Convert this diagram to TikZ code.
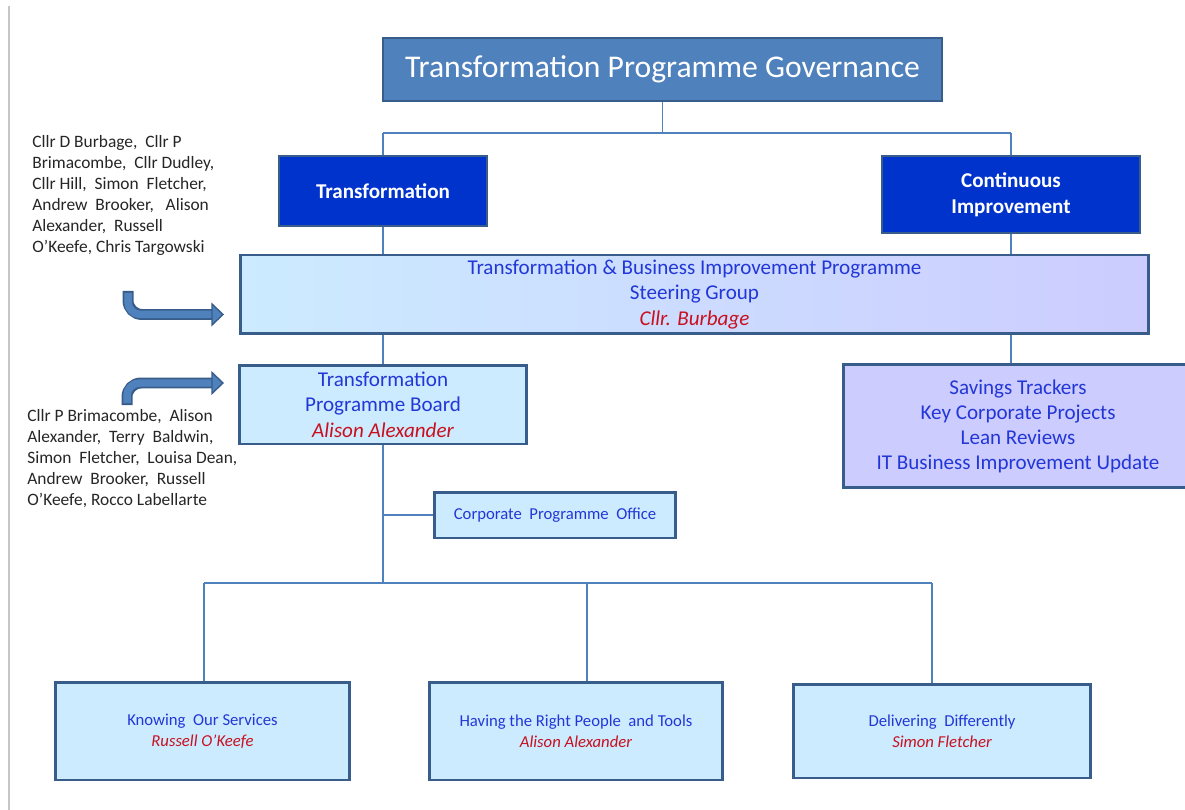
\documentclass[tikz,border=0pt]{standalone}
\usepackage{fontspec}
\setmainfont{Carlito}
\usepackage{tikz}
\usetikzlibrary{calc}
\definecolor{edgeblue}{RGB}{56,93,138}
\definecolor{titleblue}{RGB}{79,129,189}
\definecolor{deepblue}{RGB}{0,51,204}
\definecolor{paleblue}{RGB}{204,235,255}
\definecolor{lavender}{RGB}{204,204,255}
\definecolor{txtblue}{RGB}{35,55,215}
\definecolor{namered}{RGB}{200,16,30}
\definecolor{notegray}{RGB}{38,38,38}
\tikzset{
	hdr/.style={draw=edgeblue, line width=1.3pt, fill=titleblue, text=white, inner sep=0pt},
	dark/.style={draw=edgeblue, line width=1.4pt, fill=deepblue, text=white, align=center, inner sep=0pt, font=\fontsize{12}{14.7}\selectfont\bfseries},
	pale/.style={draw=edgeblue, line width=1.7pt, fill=paleblue, text=txtblue, align=center, inner sep=0pt},
	link/.style={draw=titleblue, line width=0.6pt},
	note/.style={text=notegray, align=left, anchor=north west, inner sep=0pt, font=\fontsize{9.9}{12}\selectfont},
	arrowedge/.style={draw=edgeblue, line width=0.22cm, rounded corners=0.28cm},
	arrowbody/.style={draw=titleblue, line width=0.15cm, rounded corners=0.25cm},
}
\newcommand{\who}[1]{\textcolor{namered}{\itshape #1}}
\begin{document}
\begin{tikzpicture}[x=0.02cm, y=-0.02cm]
		%%%%% START %%%%%
		\useasboundingbox[fill=white] (0,0) rectangle (1185,810);
		\draw[gray!45, line width=0.6pt] (9,6) -- (9,810);
		
		% boxes
		\node[hdr, minimum width=11.18cm, minimum height=1.26cm, font=\fontsize{18}{20}\selectfont] (gov) at (662.5,69.5) {Transformation Programme Governance};
		\node[dark, minimum width=4.16cm, minimum height=1.40cm] (trans) at (383,191) {Transformation};
		\node[dark, minimum width=5.16cm, minimum height=1.54cm] (cont) at (1011,194.5) {Continuous\\Improvement};
		
		\node[pale, left color=paleblue, middle color=paleblue!75!lavender, right color=lavender, minimum width=18.18cm, minimum height=1.58cm, font=\fontsize{12}{14.3}\selectfont] (steer) at (694.5,294.5) {Transformation \& Business Improvement Programme\\Steering Group\\\who{Cllr. Burbage}};
		
		\node[pale, minimum width=5.76cm, minimum height=1.58cm, font=\fontsize{12}{14.4}\selectfont] (board) at (383,404.5) {Transformation\\Programme Board\\\who{Alison Alexander}};
		\node[pale, fill=lavender, minimum width=7.0cm, minimum height=2.48cm, font=\fontsize{12}{14.2}\selectfont] (track) at (1018,426) {Savings Trackers\\Key Corporate Projects\\Lean Reviews\\IT Business Improvement Update};
		
		\node[pale, minimum width=4.84cm, minimum height=0.92cm, font=\fontsize{9.5}{11.5}\selectfont] (office) at (555,515) {Corporate\ \ Programme\ \ Office};
		
		\node[pale, minimum width=5.9cm, minimum height=1.96cm, font=\fontsize{9.5}{11.9}\selectfont] (know) at (202.5,731) {Knowing\ \ Our Services\\\who{Russell O’Keefe}};
		\node[pale, minimum width=5.88cm, minimum height=1.96cm, font=\fontsize{9.5}{11.9}\selectfont] (people) at (576,731) {Having the Right People\ \ and Tools\\\who{Alison Alexander}};
		\node[pale, minimum width=5.96cm, minimum height=1.88cm, font=\fontsize{9.5}{11.9}\selectfont] (deliver) at (942,731) {Delivering\ \ Differently\\\who{Simon Fletcher}};
		
		% member lists
		\node[note] (steermembers) at (32,135) {Cllr D Burbage,\ \ Cllr P\\Brimacombe,\ \ Cllr Dudley,\\Cllr Hill,\ \ Simon\ \ Fletcher,\\Andrew\ \ Brooker,\ \ \ Alison\\Alexander,\ \ Russell\\O’Keefe, Chris Targowski};
		\node[note] (boardmembers) at (27,409) {Cllr P Brimacombe,\ \ Alison\\Alexander,\ \ Terry\ \ Baldwin,\\Simon\ \ Fletcher,\ \ Louisa Dean,\\Andrew\ \ Brooker,\ \ Russell\\O’Keefe, Rocco Labellarte};
		
		% connectors
		\coordinate (split) at (gov.south |- 0,133);
		\coordinate (bus) at (trans.south |- 0,583);
		\coordinate (b1) at (204,583);
		\coordinate (b2) at (587,583);
		\coordinate (b3) at (932,583);
		\draw[link] (gov.south) -- (split);
		\draw[link] (split -| trans.north) -- (split -| cont.north);
		\draw[link] (split -| trans.north) -- (trans.north);
		\draw[link] (split -| cont.north) -- (cont.north);
		\draw[link] (trans.south) -- (trans.south |- steer.north);
		\draw[link] (cont.south) -- (cont.south |- steer.north);
		\draw[link] (trans.south |- steer.south) -- (board.north);
		\draw[link] (cont.south |- steer.south) -- (cont.south |- track.north);
		\draw[link] (board.south) -- (bus);
		\draw[link] (board.south |- office.west) -- (office.west);
		\draw[link] (b1) -- (b3);
		\draw[link] (b1) -- (b1 |- know.north);
		\draw[link] (b2) -- (b2 |- people.north);
		\draw[link] (b3) -- (b3 |- deliver.north);
		
		% bent arrows
		\draw[arrowedge] (128,291) |- (213,314.5);
		\draw[arrowbody] (128,293) |- (213,314.5);
		\filldraw[fill=titleblue, draw=edgeblue, line width=0.8pt] (212,304) -- (223,314.5) -- (212,325) -- cycle;
		
		\draw[arrowedge] (127,405) |- (213,383);
		\draw[arrowbody] (127,403) |- (213,383);
		\filldraw[fill=titleblue, draw=edgeblue, line width=0.8pt] (212,372.5) -- (223,383) -- (212,393.5) -- cycle;
		%%%%% END %%%%%
\end{tikzpicture}
\end{document}
